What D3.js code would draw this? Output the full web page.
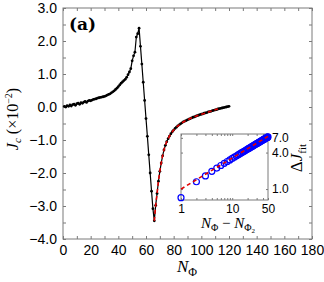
<!DOCTYPE html>
<html>
<head>
<meta charset="utf-8">
<script src="https://cdn.jsdelivr.net/npm/d3@7.9.0/dist/d3.min.js"></script>
<style>
  body { margin: 0; background: #fff; }
  svg text { font-family: Arial, "Liberation Sans", Helvetica, sans-serif; }
  svg text.serif { font-family: "Liberation Serif", "Times New Roman", serif; }
</style>
</head>
<body>
<svg id="chart" width="324" height="282"></svg>
<script>
// main curve: flux number N_Phi and critical current J_c (x 10^-2)
const fluxN = [
  1, 2, 3, 4, 5, 6, 7, 8, 9, 10, 11, 12, 13, 14, 15, 16, 17, 18, 19, 20,
  21, 22, 23, 24, 25, 26, 27, 28, 29, 30, 31, 32, 33, 34, 35, 36, 37, 38, 39, 40,
  41, 42, 43, 44, 45, 46, 47, 48, 49, 50, 51, 52, 53, 54, 55, 56, 57, 58, 59, 60,
  61, 62, 63, 64, 65, 66, 67, 68, 69, 70, 71, 72, 73, 74, 75, 76, 77, 78, 79, 80,
  81, 82, 83, 84, 85, 86, 87, 88, 89, 90, 91, 92, 93, 94, 95, 96, 97, 98, 99, 100,
  101, 102, 103, 104, 105, 106, 107, 108, 109, 110, 111, 112, 113, 114, 115, 116, 117, 118, 119, 120
];
const jcValues = [
  0.02, 0.00, 0.04, 0.02, 0.06, 0.03, 0.07, 0.09, 0.05, 0.10, 0.12, 0.08, 0.13, 0.11, 0.15, 0.17, 0.14, 0.18, 0.20, 0.19,
  0.21, 0.23, 0.24, 0.25, 0.27, 0.28, 0.29, 0.30, 0.31, 0.32, 0.34, 0.36, 0.38, 0.40, 0.43, 0.46, 0.49, 0.53, 0.57, 0.62,
  0.67, 0.72, 0.76, 0.80, 0.84, 0.90, 0.98, 1.06, 1.16, 1.40, 1.55, 1.66, 2.12, 2.22, 2.39, 1.84, 1.30, 0.75, 0.20, -0.35,
  -0.89, -1.45, -2.00, -2.55, -3.08, -3.45, -2.98, -2.62, -2.25, -1.95, -1.70, -1.48, -1.30, -1.16, -1.05, -0.96, -0.88, -0.81, -0.75, -0.70,
  -0.65, -0.61, -0.57, -0.54, -0.51, -0.48, -0.45, -0.43, -0.41, -0.39, -0.37, -0.35, -0.33, -0.31, -0.30, -0.28, -0.26, -0.25, -0.23, -0.22,
  -0.21, -0.19, -0.18, -0.17, -0.15, -0.14, -0.13, -0.11, -0.10, -0.09, -0.08, -0.06, -0.05, -0.04, -0.03, -0.02, -0.01, 0.00, 0.01, 0.02
];

// red dashed fit on the rising branch
const fitN = [66, 67, 68, 69, 70, 72, 74, 76, 78, 80, 84, 88, 92, 96, 100, 104, 108, 112];
const fitJ = [-3.45, -2.98, -2.62, -2.25, -1.95, -1.48, -1.16, -0.96, -0.81, -0.70, -0.54, -0.43, -0.35, -0.28, -0.22, -0.17, -0.11, -0.06];

// inset: Delta J_fit against N_Phi - N_Phi2
const insetN = [
  1, 2, 3, 4, 5, 6, 7, 8, 9, 10, 11, 12, 13, 14, 15, 16, 17, 18, 19, 20, 21, 22, 23, 24, 25,
  26, 27, 28, 29, 30, 31, 32, 33, 34, 35, 36, 37, 38, 39, 40, 41, 42, 43, 44, 45, 46, 47, 48, 49, 50
];
const insetDJ = [
  0.72, 1.32, 1.65, 1.96, 2.22, 2.45, 2.66, 2.85, 3.03, 3.20, 3.36, 3.51, 3.66, 3.80, 3.94, 4.07, 4.20, 4.32, 4.44, 4.56,
  4.68, 4.79, 4.90, 5.01, 5.11, 5.22, 5.32, 5.42, 5.51, 5.61, 5.70, 5.80, 5.89, 5.98, 6.07, 6.15, 6.24, 6.32, 6.41, 6.49,
  6.57, 6.65, 6.73, 6.81, 6.88, 6.96, 7.04, 7.11, 7.18, 7.26
];
const insetFitN = [1, 50];
const insetFitDJ = [1.0, 7.4];

// tick values
const xTicks = [0, 10, 20, 30, 40, 50, 60, 70, 80, 90, 100, 110, 120, 130, 140, 150, 160, 170, 180];
const yTicks = [-4, -3.5, -3, -2.5, -2, -1.5, -1, -0.5, 0, 0.5, 1, 1.5, 2, 2.5, 3];
const insetXTicks = [1, 2, 3, 4, 5, 6, 7, 8, 9, 10, 20, 30, 40, 50];
const insetXLabels = [1, 10, 50];
const insetYTicks = [1, 4, 7];

const frameColor = '#7a7a7a';
const svg = d3.select('#chart');

const x = d3.scaleLinear().domain([0, 180]).range([63, 312]);
const y = d3.scaleLinear().domain([-4, 3]).range([239, 8]);

function tidy(g, size) {
  g.select('.domain').remove();
  g.selectAll('.tick line').attr('stroke', frameColor);
  g.selectAll('.tick text').attr('font-size', size).attr('fill', '#000');
}

// main axes, ticks pointing inward on all four sides
svg.append('g').attr('transform', 'translate(0,239)')
  .call(d3.axisBottom(x).tickValues(xTicks).tickSize(-3).tickPadding(6)
    .tickFormat(d => d % 20 === 0 ? d : ''))
  .call(g => tidy(g, 14));
svg.append('g').attr('transform', `translate(0,${y(3)})`)
  .call(d3.axisTop(x).tickValues(xTicks).tickSize(-3).tickFormat(''))
  .call(g => tidy(g, 14));
svg.append('g').attr('transform', 'translate(63,0)')
  .call(d3.axisLeft(y).tickValues(yTicks).tickSize(-3).tickPadding(6)
    .tickFormat(d => Number.isInteger(d) ? d3.format('.1f')(d) : ''))
  .call(g => tidy(g, 14));
svg.append('g').attr('transform', 'translate(312,0)')
  .call(d3.axisRight(y).tickValues(yTicks).tickSize(-3).tickFormat(''))
  .call(g => tidy(g, 14));

svg.append('rect')
  .attr('x', x(0)).attr('y', y(3))
  .attr('width', x(180) - x(0)).attr('height', y(-4) - y(3))
  .attr('fill', 'none').attr('stroke', frameColor).attr('stroke-width', 1);

// main curve
const points = fluxN.map((n, i) => [n, jcValues[i]]);
const line = d3.line().x(d => x(d[0])).y(d => y(d[1]));

svg.append('path').datum(points)
  .attr('d', line).attr('fill', 'none')
  .attr('stroke', '#000').attr('stroke-width', 1.2);
svg.append('g').selectAll('circle').data(points).join('circle')
  .attr('cx', d => x(d[0])).attr('cy', d => y(d[1]))
  .attr('r', 1.4).attr('fill', '#000');

const fitPoints = fitN.map((n, i) => [n, fitJ[i]]);
svg.append('path').datum(fitPoints)
  .attr('d', line.curve(d3.curveMonotoneX)).attr('fill', 'none')
  .attr('stroke', '#e00000').attr('stroke-width', 1.6).attr('stroke-dasharray', '4,3');

// panel label and axis titles
svg.append('text').style('font-family', '"DejaVu Serif", serif')
  .attr('x', 69).attr('y', 30).attr('font-size', 17).attr('font-weight', 'bold')
  .text('(a)');

const xTitle = svg.append('text').attr('class', 'serif')
  .attr('x', 187).attr('y', 272).attr('text-anchor', 'middle').attr('font-size', 17);
xTitle.append('tspan').attr('font-style', 'italic').text('N');
xTitle.append('tspan').attr('font-size', 12).attr('dy', 4).text('Φ');

const yTitle = svg.append('text').attr('class', 'serif')
  .attr('transform', 'translate(18,119) rotate(-90)')
  .attr('text-anchor', 'middle').attr('font-size', 16);
yTitle.append('tspan').attr('font-style', 'italic').text('J');
yTitle.append('tspan').attr('font-style', 'italic').attr('font-size', 11).attr('dy', 3).text('c');
yTitle.append('tspan').attr('dy', -3).text(' (×10');
yTitle.append('tspan').attr('font-size', 10).attr('dy', -6).text('−2');
yTitle.append('tspan').attr('dy', 6).text(')');

// inset
const ix = d3.scaleLog().domain([1, 50]).range([181, 268]);
const iy = d3.scaleLog().domain([0.66, 8.1]).range([200, 134]);

svg.append('rect')
  .attr('x', 181).attr('y', 134).attr('width', 87).attr('height', 66)
  .attr('fill', '#fff').attr('stroke', frameColor).attr('stroke-width', 1);

svg.append('g').attr('transform', 'translate(0,200)')
  .call(d3.axisBottom(ix).tickValues(insetXTicks).tickSize(-2).tickPadding(4)
    .tickFormat(d => insetXLabels.includes(d) ? d : ''))
  .call(g => tidy(g, 12));
svg.append('g').attr('transform', 'translate(0,134)')
  .call(d3.axisTop(ix).tickValues(insetXTicks).tickSize(-2).tickFormat(''))
  .call(g => tidy(g, 12));
svg.append('g').attr('transform', 'translate(268,0)')
  .call(d3.axisRight(iy).tickValues(insetYTicks).tickSize(-2).tickPadding(4)
    .tickFormat(d3.format('.1f')))
  .call(g => tidy(g, 12));
svg.append('g').attr('transform', 'translate(181,0)')
  .call(d3.axisLeft(iy).tickValues(insetYTicks).tickSize(-2).tickFormat(''))
  .call(g => tidy(g, 12));

svg.append('g').selectAll('circle').data(insetN).join('circle')
  .attr('cx', (d) => ix(d)).attr('cy', (d, i) => iy(insetDJ[i]))
  .attr('r', 3).attr('fill', 'none').attr('stroke', '#0000ff').attr('stroke-width', 1.2);

const insetLine = d3.line().x(d => ix(d[0])).y(d => iy(d[1]));
svg.append('path').datum(insetFitN.map((n, i) => [n, insetFitDJ[i]]))
  .attr('d', insetLine).attr('fill', 'none')
  .attr('stroke', '#e00000').attr('stroke-width', 1.6).attr('stroke-dasharray', '4,3');

const ixTitle = svg.append('text').attr('class', 'serif')
  .attr('x', 228).attr('y', 228).attr('text-anchor', 'middle').attr('font-size', 15);
ixTitle.append('tspan').attr('font-style', 'italic').text('N');
ixTitle.append('tspan').attr('font-size', 10).attr('dy', 3).text('Φ');
ixTitle.append('tspan').attr('dy', -3).text(' − ');
ixTitle.append('tspan').attr('font-style', 'italic').text('N');
ixTitle.append('tspan').attr('font-size', 10).attr('dy', 3).text('Φ');
ixTitle.append('tspan').attr('font-size', 7).attr('dy', 2).text('2');

const iyTitle = svg.append('text').attr('class', 'serif')
  .attr('transform', 'translate(302,158) rotate(-90)')
  .attr('text-anchor', 'middle').attr('font-size', 17);
iyTitle.append('tspan').text('Δ');
iyTitle.append('tspan').attr('font-style', 'italic').text('J');
iyTitle.append('tspan').attr('font-size', 11).attr('dy', 4).text('fit');
</script>
</body>
</html>
